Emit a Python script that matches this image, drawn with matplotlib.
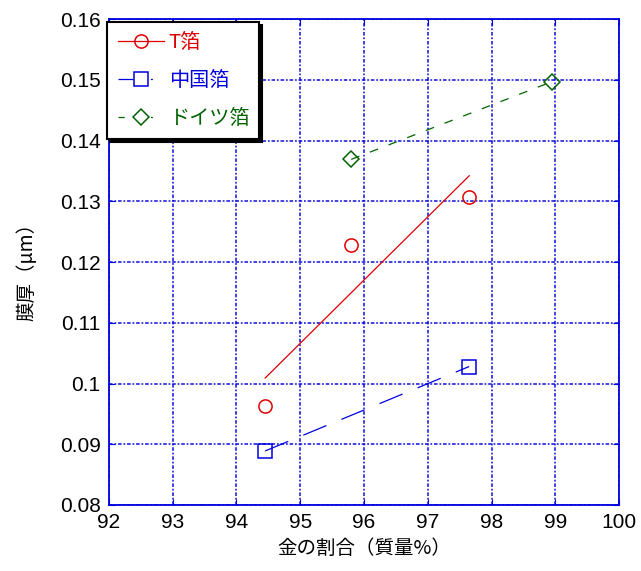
import matplotlib
matplotlib.use("Agg")
import matplotlib.pyplot as plt
from matplotlib.lines import Line2D

# --- data ---
t_x = [94.45, 95.8, 97.65]
t_y = [0.0963, 0.1228, 0.1307]
t_fit_x = [94.45, 97.65]
t_fit_y = [0.1009, 0.1342]

cn_x = [94.45, 97.65]
cn_y = [0.0889, 0.1028]

de_x = [95.8, 98.95]
de_y = [0.1369, 0.1497]

x_ticks = [92, 93, 94, 95, 96, 97, 98, 99, 100]
y_ticks = [0.08, 0.09, 0.10, 0.11, 0.12, 0.13, 0.14, 0.15, 0.16]
y_tick_labels = ["0.08", "0.09", "0.1", "0.11", "0.12", "0.13", "0.14", "0.15", "0.16"]

labels = ["T箔", "中国箔", "ドイツ箔"]
colors = ["#e00000", "#0000e0", "#006400"]

JP = ["Noto Sans CJK JP", "DejaVu Sans"]
NUM = ["Liberation Sans Narrow", "Liberation Sans", "DejaVu Sans"]

fig = plt.figure(figsize=(6.41, 5.71), dpi=100)
ax = fig.add_axes([0.170, 0.1156, 0.7957, 0.851])

ax.plot(t_x, t_y, "o", mfc="none", mec=colors[0], ms=9.5, mew=1.1, zorder=3)
ax.plot(t_fit_x, t_fit_y, "-", color=colors[0], lw=0.9, zorder=3)
ax.plot(cn_x, cn_y, "s", mfc="none", mec=colors[1], ms=10.5, mew=1.1, zorder=3)
ax.plot(cn_x, cn_y, color=colors[1], lw=0.9, dashes=(20, 13), zorder=3)
ax.plot(de_x, de_y, "D", mfc="none", mec=colors[2], ms=8, mew=1.1, zorder=3)
ax.plot(de_x, de_y, color=colors[2], lw=0.9, dashes=(7, 9), zorder=3)

ax.set_xlim(92, 100)
ax.set_ylim(0.08, 0.16)
ax.set_xticks(x_ticks)
ax.set_yticks(y_ticks)
ax.set_yticklabels(y_tick_labels)
for lab in ax.get_xticklabels() + ax.get_yticklabels():
    lab.set_family(NUM)
    lab.set_fontsize(15)
ax.tick_params(direction="in", length=4, color="#0000e0", top=True, right=True, pad=6)

ax.grid(True, color="#1010e0", lw=1.3, linestyle=(0, (2, 1, 1, 1)), alpha=0.85)
for sp in ax.spines.values():
    sp.set_color("#0000e0")
    sp.set_linewidth(1.3)

ax.set_xlabel("金の割合（質量%）", family=JP, fontsize=14, labelpad=4)
ax.set_ylabel("膜厚（μm）", family=JP, fontsize=14)
ax.yaxis.set_label_coords(-0.141, 0.49)

handles = [
    Line2D([], [], color=colors[0], lw=0.9, marker="o", mfc="none", ms=9.5, mew=1.1),
    Line2D([], [], color=colors[1], lw=0.9, dashes=(12, 14, 1.5, 20), marker="s", mfc="none", ms=10.5, mew=1.1),
    Line2D([], [], color=colors[2], lw=0.9, dashes=(5, 21, 1.5, 20), marker="D", mfc="none", ms=8, mew=1.1),
]
leg = ax.legend(handles, labels, loc="upper left", bbox_to_anchor=(-0.003, 0.994),
                prop={"family": JP, "size": 14.5}, handlelength=2.3, handletextpad=0.25,
                borderpad=0.5, labelspacing=0.85, fancybox=False, framealpha=1,
                borderaxespad=0, shadow={"color": "black", "alpha": 1})
leg.get_frame().set_edgecolor("black")
leg.get_frame().set_linewidth(1.5)
for txt, c in zip(leg.get_texts(), colors):
    txt.set_color(c)
leg.set_zorder(5)

fig.savefig("out.png", dpi=100, facecolor="white")
